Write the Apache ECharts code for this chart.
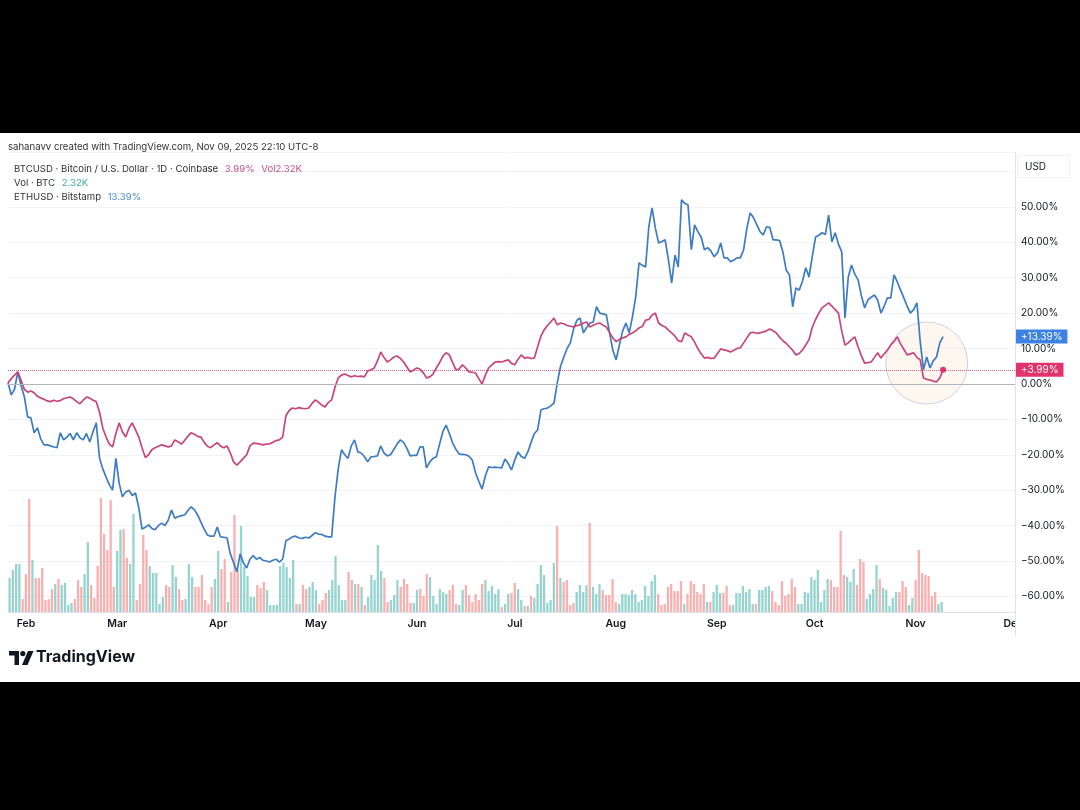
<!DOCTYPE html>
<html><head><meta charset="utf-8">
<script src="https://cdn.jsdelivr.net/npm/echarts@6/dist/echarts.min.js"></script>
<style>
html,body{margin:0;padding:0;background:#000;overflow:hidden;}
#bg{position:absolute;left:0;top:133px;width:1080px;height:549px;background:#fff;}
#c{position:absolute;left:0;top:0;width:1080px;height:810px;}
</style></head><body><div id="bg"></div><div id="c"></div>
<script>
// ---- categories: daily dates from 2025-01-27 to 2025-12-01 ----
const firstDay = '2025-01-27';
const lastDay = '2025-12-01';
const monthNames = ['Jan','Feb','Mar','Apr','May','Jun','Jul','Aug','Sep','Oct','Nov','Dec'];
const categories = [];
for (let t = Date.parse(firstDay + 'T00:00:00Z'); t <= Date.parse(lastDay + 'T00:00:00Z'); t += 86400000) {
  categories.push(new Date(t).toISOString().slice(0, 10));
}

// ---- BTCUSD % change (Coinbase, 1D) ----
const btc = [
0.3,1.5,2.5,3.4,1.0,-1.5,-2.3,-2.0,-2.5,-3.5,
-4.0,-4.3,-4.8,-5.0,-4.6,-4.9,-4.7,-4.2,-3.9,-3.7,
-4.2,-5.0,-5.6,-4.6,-3.7,-4.0,-4.6,-5.0,-8.0,-12.5,
-15.0,-17.0,-17.8,-14.0,-11.0,-13.5,-15.0,-12.5,-11.0,-13.0,
-15.0,-18.0,-20.8,-20.0,-18.6,-18.0,-17.6,-17.2,-17.5,-17.8,
-17.5,-15.8,-16.3,-17.0,-16.0,-14.8,-13.8,-14.2,-14.8,-15.0,
-16.5,-17.6,-18.0,-17.2,-16.6,-17.5,-18.0,-17.5,-19.5,-22.0,
-22.9,-22.0,-21.0,-20.0,-17.5,-16.7,-16.8,-17.0,-17.2,-17.0,
-16.9,-16.5,-16.0,-15.8,-15.0,-9.0,-7.5,-6.8,-7.0,-6.7,
-6.9,-7.0,-6.8,-5.5,-4.5,-5.2,-6.0,-6.5,-5.2,-4.5,
-1.0,1.7,2.5,2.8,2.4,2.0,2.3,2.1,2.2,2.0,
3.7,4.0,4.5,6.5,9.0,7.5,6.2,6.8,7.6,7.9,
7.2,6.2,4.8,3.4,3.9,4.5,4.2,3.2,1.7,2.0,
2.8,4.5,6.0,7.8,8.8,8.2,6.0,4.0,4.2,5.4,
4.5,3.4,3.3,3.1,1.5,0.0,2.5,4.5,5.4,6.2,
6.3,6.2,6.5,6.8,5.8,5.4,7.0,8.2,7.3,7.5,
7.2,7.3,10.5,13.5,15.3,16.5,17.5,18.6,16.7,17.2,
17.0,16.5,16.3,16.1,16.5,16.7,17.2,17.5,16.1,16.6,
17.0,17.2,16.6,16.1,14.5,13.0,11.9,12.6,13.0,13.3,
14.0,14.4,15.0,15.8,16.2,18.0,18.2,19.5,20.0,17.2,
16.5,16.1,15.2,14.4,13.5,12.2,11.9,14.4,13.8,13.3,
11.8,10.0,8.5,7.3,7.5,7.2,7.3,8.6,9.9,9.6,
9.4,9.0,9.5,10.0,10.2,11.6,13.0,14.4,14.6,14.3,
14.4,14.7,15.0,15.5,15.0,14.4,13.2,12.2,11.5,10.5,
9.5,8.2,8.6,9.6,11.0,12.5,16.0,18.2,20.0,21.5,
22.2,22.9,22.0,21.0,20.0,15.0,11.0,11.6,12.5,13.3,
10.5,8.0,5.9,6.0,6.2,7.5,8.8,7.3,8.5,9.6,
11.0,12.0,13.3,11.3,9.8,8.2,8.5,8.8,7.5,6.8,
1.7,1.3,1.1,0.8,0.6,1.7,3.99
];

// ---- ETHUSD % change (Bitstamp) ----
const eth = [
0.3,-3.1,-1.5,3.4,-0.5,-3.6,-9.3,-9.6,-13.8,-12.4,
-15.5,-17.2,-17.2,-17.5,-17.8,-18.0,-13.8,-15.8,-15.0,-14.0,
-15.8,-13.8,-15.2,-15.8,-14.0,-16.4,-13.5,-11.0,-21.0,-24.0,
-26.3,-28.5,-30.0,-21.0,-28.0,-31.9,-30.5,-30.0,-31.5,-30.8,
-35.0,-41.0,-40.5,-39.8,-40.8,-41.2,-40.0,-39.3,-40.0,-38.5,
-35.6,-37.9,-37.5,-37.2,-37.0,-35.8,-34.7,-35.5,-37.0,-39.0,
-41.0,-42.7,-43.0,-43.0,-40.4,-43.2,-43.3,-43.5,-48.0,-50.5,
-53.0,-48.0,-50.5,-52.0,-49.5,-48.5,-49.5,-49.0,-49.8,-50.0,
-50.3,-49.8,-49.5,-50.3,-49.5,-44.3,-43.8,-43.2,-43.0,-43.5,
-43.6,-43.3,-43.5,-42.8,-42.0,-42.4,-42.5,-43.0,-43.2,-43.2,
-32.0,-24.0,-18.6,-20.0,-21.0,-17.5,-15.8,-19.2,-19.5,-20.5,
-22.0,-20.6,-20.5,-20.3,-17.5,-19.5,-20.3,-20.0,-18.5,-17.0,
-15.8,-16.5,-18.2,-20.3,-20.2,-20.2,-17.8,-17.8,-23.7,-22.0,
-21.0,-20.6,-17.0,-13.5,-11.6,-14.0,-16.7,-18.5,-19.8,-19.9,
-20.0,-20.4,-21.5,-25.1,-27.5,-29.7,-26.0,-23.4,-23.6,-23.5,
-23.6,-23.7,-21.2,-22.5,-24.3,-21.5,-19.2,-20.5,-21.0,-19.2,
-16.5,-14.0,-13.0,-7.3,-7.0,-6.8,-6.2,-5.4,0.3,5.0,
7.6,10.0,11.6,15.5,18.0,18.6,14.4,16.0,17.2,17.5,
21.8,20.0,19.8,19.5,14.4,9.5,6.8,11.0,15.0,17.2,
14.4,19.0,24.6,34.2,33.5,33.0,44.4,49.7,44.0,39.8,
40.2,40.7,35.0,28.5,36.4,33.0,52.0,51.0,50.5,37.9,
44.9,43.0,41.5,37.9,38.5,37.5,35.9,37.0,39.8,35.6,
35.6,34.5,35.0,35.6,35.6,37.9,44.0,48.3,47.0,45.0,
43.0,42.1,44.4,44.2,40.7,40.7,40.5,37.3,32.2,30.8,
21.8,27.1,26.5,29.0,32.8,30.2,36.0,41.5,42.0,42.7,
42.2,47.7,40.1,42.7,39.5,37.3,18.6,30.2,33.6,31.0,
29.4,25.0,21.5,23.7,24.5,25.1,23.7,20.0,22.0,24.3,
24.3,30.8,28.8,26.5,24.3,22.0,20.0,21.0,22.9,12.0,
4.0,7.6,4.5,6.5,7.6,11.6,13.39
];

// ---- BTC volume (relative bar heights) ----
const volume = [
34,42,48,48,13,38,113,52,34,34,
44,12,13,23,28,33,27,29,7,9,
13,32,25,38,70,27,14,46,114,78,
62,112,25,61,82,83,54,48,98,12,
28,77,62,46,39,39,8,15,27,25,
47,35,23,12,13,48,35,25,25,37,
12,8,25,33,61,43,53,10,40,97,
42,86,45,36,15,15,27,24,30,22,
7,7,7,46,49,45,34,52,8,8,
27,23,25,30,22,8,12,19,22,32,
56,27,12,12,40,32,28,28,25,7,
15,37,32,67,41,34,10,12,17,32,
25,33,28,9,9,22,23,16,38,35,
16,8,23,20,18,22,27,8,7,22,
27,17,10,18,
12,28,32,21,26,18,23,5,8,18,
19,29,23,12,6,6,16,14,28,47,
37,9,12,49,86,34,30,32,7,9,
20,27,20,27,89,25,18,28,22,17,
17,33,10,8,18,18,17,22,18,10,
12,26,16,31,37,18,7,8,25,28,
21,21,31,8,18,31,28,20,18,28,
10,10,20,27,19,19,26,7,7,19,
19,26,20,23,8,8,22,22,25,26,
21,10,7,31,16,18,33,25,8,8,
20,19,35,32,42,10,22,33,32,25,
25,81,37,35,30,43,27,53,50,13,
18,23,47,33,24,22,6,14,20,20,
31,25,7,14,32,62,39,37,36,16,
20,8,10
];

// ---- texts ----
const headerText = 'sahanavv created with TradingView.com, Nov 09, 2025 22:10 UTC-8';
const btcLabel = 'BTCUSD · Bitcoin / U.S. Dollar · 1D · Coinbase';
const volLabel = 'Vol · BTC';
const volValue = '2.32K';
const ethLabel = 'ETHUSD · Bitstamp';
const yTicks = { min: -60, max: 65.5, step: 10, lastLabel: 50 };
const highlight = { day: '2025-11-04', value: 5.9 };

const FONT = 'Inter, Roboto, "Noto Sans", sans-serif';
const BTC_COLOR = '#c8457c';
const ETH_COLOR = '#3d7cc2';
const UP = 'rgba(38,166,154,0.48)';
const DOWN = 'rgba(239,83,80,0.45)';
const lastBtc = btc[btc.length - 1];
const lastEth = eth[eth.length - 1];
const pct = v => (v < 0 ? '\u2212' + Math.abs(v).toFixed(2) : v.toFixed(2)) + '%';
const sig = v => (v >= 0 ? '+' : '\u2212') + Math.abs(v).toFixed(2) + '%';
const tagLabel = (val, bg) => ({ show: true, position: 'end', distance: 1, formatter: () => sig(val), color: '#fff',
  backgroundColor: bg, padding: [2, 5, 2, 5], fontSize: 10, fontFamily: FONT });
const LEG = 9.6;

const chart = echarts.init(document.getElementById('c'), null, { renderer: 'canvas' });
chart.setOption({
  animation: false,
  backgroundColor: 'transparent',
  textStyle: { fontFamily: FONT },
  grid: [
    { left: 8, right: 65, top: 152, bottom: 213.6 },
    { left: 8, right: 65, top: 472, bottom: 198 }
  ],
  xAxis: [
    { type: 'category', gridIndex: 0, data: categories, boundaryGap: false,
      axisLine: { show: false }, axisTick: { show: false }, axisLabel: { show: false }, splitLine: { show: false } },
    { type: 'category', gridIndex: 1, data: categories, boundaryGap: true,
      axisLine: { lineStyle: { color: '#e0e3eb' } }, axisTick: { show: false },
      axisLabel: {
        interval: (i, v) => v.slice(8) === '01',
        formatter: v => monthNames[+v.slice(5, 7) - 1],
        color: '#131722', fontSize: 10.5, fontWeight: 600, margin: 6, fontFamily: FONT
      },
      splitLine: { show: false } }
  ],
  yAxis: [
    { type: 'value', gridIndex: 0, position: 'right', min: yTicks.min, max: yTicks.max, interval: yTicks.step,
      axisLine: { show: false }, axisTick: { show: false },
      axisLabel: { formatter: v => (v > yTicks.lastLabel ? '' : pct(v)), color: '#131722', fontSize: 10, margin: 6, showMaxLabel: false, fontFamily: FONT },
      splitLine: { lineStyle: { color: '#f0f3fa', width: 1 } } },
    { type: 'value', gridIndex: 1, min: 0, max: 140, show: false, splitLine: { show: false } }
  ],
  series: [
    { type: 'scatter', xAxisIndex: 0, yAxisIndex: 0, silent: true, z: 1,
      data: [[highlight.day, highlight.value]], symbolSize: 82,
      itemStyle: { color: 'rgba(252,226,196,0.32)', borderColor: '#c9c3d8', borderWidth: 1 } },
    { type: 'bar', xAxisIndex: 1, yAxisIndex: 1, data: volume, barWidth: 2.3, silent: true, z: 1,
      itemStyle: { color: p => (p.dataIndex === 0 || btc[p.dataIndex] >= btc[p.dataIndex - 1]) ? UP : DOWN } },
    { name: 'ETHUSD', type: 'line', xAxisIndex: 0, yAxisIndex: 0, data: eth, showSymbol: false, z: 3,
      lineStyle: { color: ETH_COLOR, width: 1.7 }, itemStyle: { color: ETH_COLOR },
      markLine: { silent: true, symbol: ['none', 'none'], animation: false,
        data: [{ yAxis: lastEth, lineStyle: { color: 'rgba(0,0,0,0)', width: 1 }, label: tagLabel(lastEth, '#3b82e3') }] } },
    { name: 'BTCUSD', type: 'line', xAxisIndex: 0, yAxisIndex: 0, data: btc, showSymbol: false, z: 4,
      lineStyle: { color: BTC_COLOR, width: 1.7 }, itemStyle: { color: BTC_COLOR },
      markLine: { silent: true, symbol: ['none', 'none'], animation: false,
        data: [
          { yAxis: 0, lineStyle: { color: '#b2b5be', type: 'solid', width: 1 }, label: { show: false } },
          { yAxis: lastBtc, lineStyle: { color: 'rgba(214,40,100,0.75)', type: 'dotted', width: 1 }, label: tagLabel(lastBtc, '#e2336c') }
        ] },
      markPoint: { silent: true, symbol: 'circle', symbolSize: 6,
        itemStyle: { color: '#e2336c' }, label: { show: false },
        data: [{ coord: [categories[btc.length - 1], lastBtc] }] } }
  ],
  graphic: [
    { type: 'text', z: 100, left: 8, top: 142, style: { text: headerText, fill: '#333', font: LEG + 'px ' + FONT } },
    { type: 'text', z: 100, left: 14, top: 163, style: {
        text: '{d|' + btcLabel + '}  {p|' + lastBtc.toFixed(2) + '%}  {p|Vol' + volValue + '}',
        rich: { d: { fill: '#333', fontSize: LEG, fontFamily: FONT }, p: { fill: '#cf4f87', fontSize: LEG, fontFamily: FONT } } } },
    { type: 'text', z: 100, left: 14, top: 177, style: {
        text: '{d|' + volLabel + '}  {t|' + volValue + '}',
        rich: { d: { fill: '#333', fontSize: LEG, fontFamily: FONT }, t: { fill: '#3fae9c', fontSize: LEG, fontFamily: FONT } } } },
    { type: 'text', z: 100, left: 14, top: 191, style: {
        text: '{d|' + ethLabel + '}  {b|' + lastEth.toFixed(2) + '%}',
        rich: { d: { fill: '#333', fontSize: LEG, fontFamily: FONT }, b: { fill: '#4a8ccc', fontSize: LEG, fontFamily: FONT } } } },
    { type: 'rect', z: 100, shape: { x: 1017.5, y: 155.5, width: 52, height: 22 }, style: { fill: '#fff', stroke: '#f0f2f6', lineWidth: 1 } },
    { type: 'text', z: 101, left: 1025, top: 162, style: { text: 'USD', fill: '#131722', font: '10px ' + FONT } },
    { type: 'rect', z: 100, shape: { x: 1016, y: 614, width: 64, height: 22 }, style: { fill: '#fff' } },
    { type: 'line', z: 101, shape: { x1: 1015.5, y1: 152, x2: 1015.5, y2: 636 }, style: { stroke: '#e0e3eb', lineWidth: 1 } },
    { type: 'polygon', shape: { points: [[9, 651], [19, 651], [19, 665], [14.5, 665], [14.5, 655.5], [9, 655.5]] }, style: { fill: '#131722' } },
    { type: 'circle', shape: { cx: 22.8, cy: 653.6, r: 2.6 }, style: { fill: '#131722' } },
    { type: 'polygon', shape: { points: [[28, 651], [33.5, 651], [27.5, 665], [22, 665]] }, style: { fill: '#131722' } },
    { type: 'text', left: 36, top: 649, style: { text: 'TradingView', fill: '#131722', font: 'bold 16px ' + FONT } }
  ]
});
</script></body></html>
